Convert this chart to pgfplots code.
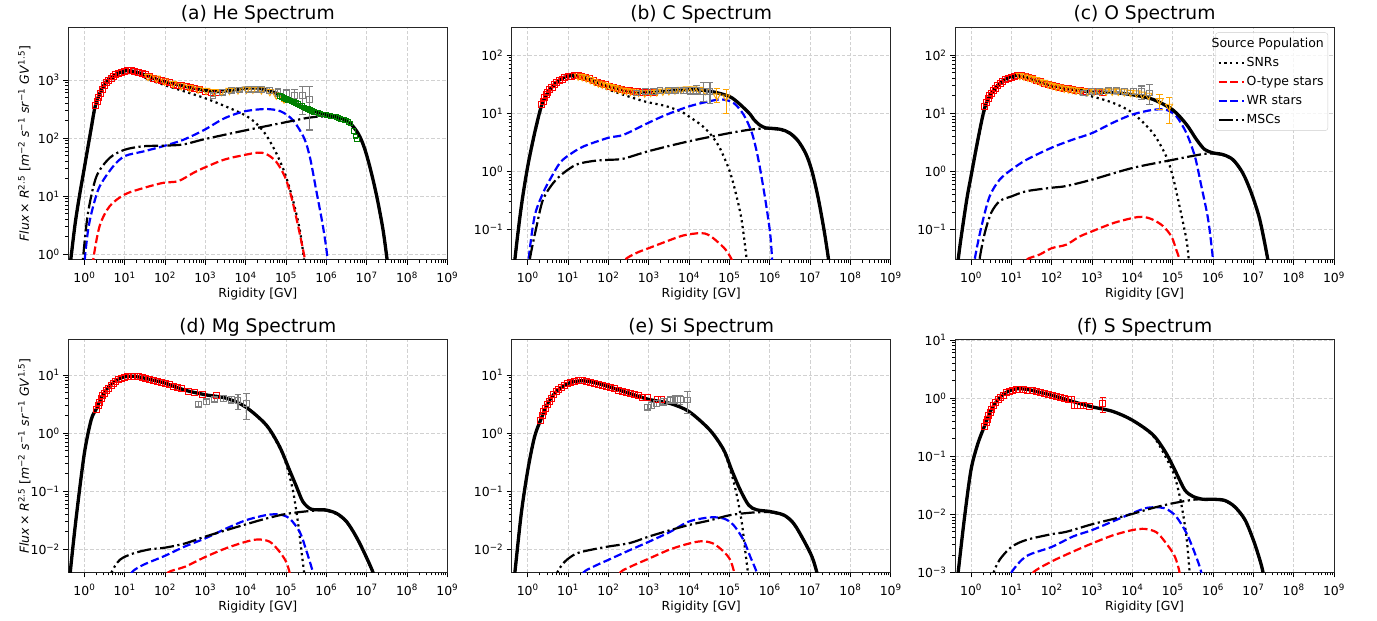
\documentclass[border=0pt]{standalone}
\usepackage{fontspec}
\setmainfont{DejaVu Sans}
\usepackage{pgfplots}
\pgfplotsset{compat=1.18}
\definecolor{mplorange}{RGB}{255,165,0}
\definecolor{mplgreen}{RGB}{0,128,0}
\definecolor{mplgray}{RGB}{128,128,128}
\newcommand{\sE}[1]{10\textsuperscript{#1}}
\pgfplotsset{
  mypanel/.style={
    scale only axis, width=379bp, height=232.5bp,
    xmin=0.4, xmax=1e9,
    xtick={1,10,100,1000,10000,100000,1000000,10000000,100000000,1000000000},
    xticklabels={\sE{0},\sE{1},\sE{2},\sE{3},\sE{4},\sE{5},\sE{6},\sE{7},\sE{8},\sE{9}},
    tick align=outside, xtick pos=bottom, ytick pos=left,
    major tick length=5bp, minor tick length=3bp,
    tick style={black, line width=0.8bp},
    axis line style={black!85, line width=1bp},
    grid=major, major grid style={black!18, line width=0.7bp, dash pattern=on 3.5bp off 2bp},
    tick label style={font=\fontsize{12.5}{15}\selectfont},
    xticklabel style={yshift=-3.5bp},
    label style={font=\fontsize{12.5}{15}\selectfont},
    title style={font=\fontsize{18.75}{22}\selectfont, at={(axis description cs:0.5,1.008)}, anchor=base},
    xlabel={Rigidity [GV]},
    xlabel style={at={(axis description cs:0.5,-0.1613)}, anchor=base},
    ylabel style={at={(axis description cs:-0.1161,0.5)}, anchor=center},
  },
  snr/.style={black, line width=2.2bp, dash pattern=on 2.2bp off 3.6bp, smooth, tension=0.5},
  otype/.style={red, line width=2.2bp, dash pattern=on 8.1bp off 3.5bp, smooth, tension=0.5},
  wr/.style={blue, line width=2.2bp, dash pattern=on 8.1bp off 3.5bp, smooth, tension=0.5},
  msc/.style={black, line width=2.2bp, dash pattern=on 14bp off 3.5bp on 2.2bp off 3.5bp, smooth, tension=0.5},
  total/.style={black, line width=3.3bp, smooth, tension=0.5, forget plot},
  ebars/.style={error bars/y dir=both, error bars/y explicit, error bars/error bar style={line width=1.1bp},
     error bars/error mark options={rotate=90, mark size=3.3bp, line width=1.1bp}},
  amsred/.style={forget plot, only marks, red, mark=square, mark size=3bp, mark options={line width=0.9bp, fill=none}},
  amsrederr/.style={forget plot, only marks, red, mark=square, mark size=3bp, mark options={line width=0.9bp, fill=none}, ebars},
  triorange/.style={forget plot, only marks, mplorange, mark=triangle, mark size=4.2bp, mark options={rotate=180, line width=0.9bp, fill=none}, ebars},
  graysq/.style={forget plot, only marks, mplgray, mark=square, mark size=2.9bp, mark options={line width=0.9bp, fill=none}, ebars},
  greenm/.style={forget plot, only marks, mplgreen, mark=square, mark size=2.3bp, mark options={line width=0.9bp, fill=none}},
}
\begin{document}
\begin{tikzpicture}
\useasboundingbox (0,0) rectangle (1377bp,621bp);
% ---------------- (a) He
\begin{loglogaxis}[mypanel, at={(68.3bp,361bp)}, anchor=south west, ymin=0.8, ymax=8000,
  ytick={1,10,100,1000}, yticklabels={\sE{0},\sE{1},\sE{2},\sE{3}},
  title={(a) He Spectrum},
  ylabel={\textit{Flux}\,×\,\,\textit{R}\textsuperscript{2.5} [\textit{m}\textsuperscript{−2} \textit{s}\textsuperscript{−1} \textit{sr}\textsuperscript{−1} \textit{GV}\textsuperscript{1.5}]}]
\addplot[snr] coordinates {(0.398,0.355) (0.468,0.891) (0.589,3.31) (0.741,9.33) (0.933,22.9) (1.175,57.5) (1.479,141) (1.862,331) (2.630,631) (3.715,912) (5.888,1148) (9.333,1288) (13.18,1318) (23.44,1202) (46.77,977) (100,813) (229.1,676) (955,490) (3311,347) (9333,251) (1.778e4,182) (3.162e4,115) (5.754e4,55.0) (9.333e4,25.1) (1.479e5,8.71) (2.188e5,2.69) (2.818e5,0.794) (3.162e5,0.398)};
\addplot[otype] coordinates {(1.549,0.398) (1.660,0.813) (2.399,3.090) (4.266,6.761) (10,10.72) (28.84,13.80) (89.13,16.98) (213.8,18.20) (501.2,25.12) (933.3,30.90) (2951,42.66) (9333,51.29) (1.995e4,56.23) (3.162e4,53.70) (5.623e4,39.81) (9.333e4,21.88) (1.349e5,10) (1.995e5,3.090) (2.951e5,0.813) (3.311e5,0.398)};
\addplot[wr] coordinates {(0.955,0.316) (1.023,0.813) (1.259,2.818) (1.660,6.761) (2.399,14.79) (5.129,32.36) (10,48.98) (28.84,58.88) (89.13,72.44) (281.8,93.33) (933.3,138.0) (2951,218.8) (9333,288.4) (3.162e4,316.2) (7.413e4,288.4) (1.479e5,204.2) (2.818e5,100) (3.981e5,44.67) (5.623e5,12.59) (7.943e5,3.548) (1e6,1.259) (1.148e6,0.501)};
\addplot[msc] coordinates {(0.871,0.398) (0.933,0.891) (1.230,5.129) (1.995,21.88) (4.266,45.71) (10,63.10) (28.84,72.44) (89.13,74.13) (281.8,77.62) (933.3,95.50) (9333,134.9) (9.333e4,186.2) (2.951e5,218.8) (6.310e5,234.4) (1.259e6,234.4) (2.512e6,208.9) (3.981e6,173.8) (6.310e6,114.8) (8.913e6,64.57) (1.259e7,27.54) (1.778e7,9.772) (2.512e7,2.754) (3.162e7,0.871) (3.548e7,0.437)};
\addplot[total] coordinates {(0.398,0.355) (0.468,0.891) (0.589,3.31) (0.741,9.33) (0.933,23.4) (1.175,58.9) (1.479,148) (1.862,355) (2.630,676) (3.715,977) (5.888,1230) (9.333,1413) (13.18,1445) (23.44,1318) (46.77,1096) (100,933) (316.2,776) (1000,661) (1995,631) (3981,661) (1e4,724) (1.995e4,724) (3.981e4,646) (7.943e4,537) (1.585e5,407) (3.162e5,324) (6.310e5,275) (1.259e6,245) (2.512e6,214) (3.981e6,178) (6.310e6,117) (8.913e6,66.1) (1.259e7,28.2) (1.778e7,10) (2.512e7,2.818) (3.162e7,0.891) (3.548e7,0.447)};
\addplot[amsred] coordinates {(1.905,363) (2.089,427) (2.291,501) (2.512,589) (2.818,692) (3.162,794) (3.548,891) (3.981,977) (4.571,1072) (5.248,1148) (6.026,1230) (7.079,1288) (8.318,1349) (10,1413) (12.02,1445) (14.45,1445) (17.78,1413) (21.88,1349) (26.92,1288) (33.11,1230) (41.69,1148) (52.48,1072) (66.07,1023) (83.18,977) (104.7,933) (131.8,891) (166.0,851) (208.9,813) (263.0,794) (331.1,759) (416.9,741) (524.8,708) (707.9,676) (1000,646) (1413,617) (1995,603)};
\addplot[triorange] coordinates {(38.02,1148) (61.66,1072) (97.72,955) (158.5,871) (251.2,794) (407.4,741) (660.7,692) (1047,661) (1698,631) (2512,631) (3981,661) (6457,676) (1.047e4,692) (1.514e4,692) (2.455e4,676) (3.981e4,631) (5.754e4,550) (8.913e4,468) +- (0,45)};
\addplot[graysq] coordinates {(1549,550) +- (0,38) (2630,603) +- (0,42) (4365,661) +- (0,46) (7079,676) +- (0,55) (1.148e4,692) +- (0,64) (1.660e4,692) +- (0,64) (2.455e4,692) +- (0,72) (3.890e4,661) +- (0,77) (6.310e4,617) +- (0,86) (1.023e5,589) +- (0,95) (1.622e5,550) += (0,142) -= (0,133) (2.570e5,537) += (0,239) -= (0,286) (3.890e5,468) += (0,308) -= (0,330)};
\addplot[greenm] coordinates {(7.079e4,537) (7.943e4,513) (8.913e4,490) (1e5,468) (1.122e5,457) (1.259e5,447) (1.413e5,427) (1.585e5,417) (1.778e5,398) (1.995e5,389) (2.239e5,363) (2.512e5,355) (2.818e5,339) (3.162e5,324) (3.548e5,316) (3.981e5,302) (4.467e5,295) (5.012e5,282) (5.623e5,275) (6.310e5,269) (7.079e5,263) (7.943e5,257) (8.913e5,257) (1e6,251) (1.122e6,245) (1.259e6,240) (1.413e6,234) (1.585e6,234) (1.778e6,229) (1.995e6,224) (2.239e6,214) (2.512e6,209) (2.818e6,204) (3.162e6,200) (3.548e6,191) (3.981e6,178) (4.677e6,132) (5.248e6,107) (5.754e6,95.5)};
\end{loglogaxis}
% ---------------- (b) C
\begin{loglogaxis}[mypanel, at={(511.7bp,361bp)}, anchor=south west, ymin=0.03, ymax=300,
  ytick={0.1,1,10,100}, yticklabels={\sE{−1},\sE{0},\sE{1},\sE{2}},
  title={(b) C Spectrum}]
\addplot[snr] coordinates {(0.398,5.62e-3) (0.479,0.0282) (0.692,0.234) (1,1.148) (1.479,4.266) (2.188,12.59) (3.162,21.38) (5.012,31.62) (7.943,38.90) (13.49,41.69) (25.12,38.02) (50.12,31.62) (131.8,23.99) (741.3,16.22) (2512,13.49) (6310,10.72) (1.072e4,8.511) (1.995e4,6.310) (3.311e4,4.467) (5.623e4,2.630) (1e5,1.047) (1.413e5,0.447) (1.995e5,0.151) (2.692e5,0.0302) (3.020e5,0.0126)};
\addplot[otype] coordinates {(223.9,0.0200) (257.0,0.0302) (501.2,0.0398) (1000,0.0479) (2818,0.0631) (7244,0.0794) (1.905e4,0.0871) (3.020e4,0.0813) (4.898e4,0.0631) (7.943e4,0.0457) (1.148e5,0.0302) (1.318e5,0.0200)};
\addplot[wr] coordinates {(1,0.0126) (1.047,0.0302) (1.479,0.170) (2.399,0.427) (3.548,0.724) (6.310,1.413) (10.96,1.950) (23.99,2.692) (100,3.802) (234.4,4.266) (1000,6.918) (2818,9.550) (1e4,13.18) (3.311e4,16.22) (6.457e4,17.38) (1.259e5,15.14) (2.239e5,9.550) (3.631e5,4.571) (5.248e5,1.585) (7.762e5,0.331) (1.023e6,0.0871) (1.148e6,0.0302) (1.230e6,0.0126)};
\addplot[msc] coordinates {(1.047,0.0126) (1.122,0.0302) (1.660,0.115) (2.399,0.331) (4.266,0.631) (7.586,0.933) (16.22,1.318) (41.69,1.514) (100,1.585) (234.4,1.660) (1000,2.239) (1e4,3.311) (1e5,4.571) (3.311e5,5.248) (7.762e5,5.495) (1.259e6,5.370) (1.995e6,5.129) (3.162e6,4.467) (5.012e6,3.311) (7.943e6,1.950) (1.122e7,0.977) (1.585e7,0.347) (2.239e7,0.0933) (2.884e7,0.0295) (3.311e7,0.0138)};
\addplot[total] coordinates {(0.398,6.31e-3) (0.479,0.0302) (0.692,0.251) (1,1.230) (1.479,4.571) (2.188,13.49) (3.162,22.91) (5.012,33.88) (7.943,41.69) (13.49,44.67) (25.12,41.69) (50.12,34.67) (100,29.51) (346.7,23.99) (1000,22.91) (3162,23.99) (1e4,25.70) (3.311e4,23.99) (1e5,19.50) (1.862e5,14.13) (3.311e5,9.550) (3.981e5,7.943) (5.623e5,6.310) (7.943e5,5.623) (1.259e6,5.495) (1.995e6,5.248) (3.162e6,4.571) (5.012e6,3.388) (7.943e6,1.995) (1.122e7,1) (1.585e7,0.355) (2.239e7,0.0955) (2.884e7,0.0302) (3.311e7,0.0141)};
\addplot[amsred] coordinates {(2.188,14.13) (2.399,16.22) (2.630,18.62) (2.884,20.89) (3.162,22.91) (3.548,25.70) (3.981,28.18) (4.571,30.90) (5.248,33.88) (6.026,36.31) (7.079,38.90) (8.318,40.74) (10,42.66) (12.02,43.65) (14.45,44.67) (17.78,44.67) (21.88,43.65) (26.92,41.69) (33.11,39.81) (41.69,37.15) (52.48,34.67) (66.07,33.11) (83.18,30.90) (104.7,29.51) (131.8,28.18) (166.0,26.92) (208.9,25.70) (263.0,25.12) (331.1,24.55) (416.9,23.99) (524.8,23.44) (707.9,22.91) (1000,22.91) (1413,22.91)};
\addplot[triorange] coordinates {(17.78,43.65) (22.39,42.66) (28.18,40.74) (35.48,38.02) (44.67,35.48) (56.23,33.11) (70.79,31.62) (89.13,30.20) (112.2,28.84) (141.3,27.54) (177.8,26.30) (223.9,25.12) (281.8,24.55) (354.8,23.99) (446.7,23.44) (562.3,22.91) (794.3,22.39) (1122,22.91) (1585,23.44) (2239,23.99) (3162,24.55) (4467,25.12) (6310,25.70) (8913,26.30) (1.259e4,26.30) (1.778e4,25.70) (2.512e4,24.55) (4.898e4,19.95) += (0,6.35) -= (0,4.81) (8.318e4,19.05) += (0,6.65) -= (0,9.05)};
\addplot[graysq] coordinates {(501.2,22.39) +- (0,1.05) (812.8,23.44) +- (0,1.1) (1288,23.99) +- (0,1.4) (1905,24.55) +- (0,1.45) (3090,25.12) +- (0,1.8) (4571,25.12) +- (0,1.8) (7244,24.55) +- (0,2.4) (1.072e4,24.55) +- (0,3.0) (1.549e4,25.12) += (0,5.07) -= (0,4.23) (2.291e4,23.99) += (0,9.89) -= (0,8.14) (3.311e4,23.44) += (0,10.44) -= (0,8.65)};
\end{loglogaxis}
% ---------------- (c) O
\begin{loglogaxis}[mypanel, at={(955bp,361bp)}, anchor=south west, ymin=0.03, ymax=300,
  ytick={0.1,1,10,100}, yticklabels={\sE{−1},\sE{0},\sE{1},\sE{2}},
  title={(c) O Spectrum},
  legend image code/.code={\draw[#1] (0bp,0bp) -- (25bp,0bp);},
  legend style={at={(axis description cs:1,1)}, anchor=north east, xshift=-6bp, yshift=-5bp,
    draw=black!20, rounded corners=2.5bp, fill=white, fill opacity=0.8, text opacity=1,
    font=\fontsize{12.5}{15}\selectfont, inner xsep=2bp, inner ysep=3.5bp, row sep=4.3bp,
    cells={anchor=west}}]
\addlegendimage{empty legend}
\addlegendentry{\hspace*{-35bp}Source Population}
\addplot[snr] coordinates {(0.398,4.677e-3) (0.479,0.0282) (0.759,0.269) (1,0.776) (1.479,3.311) (2.188,11.75) (3.162,20.42) (5.012,30.20) (7.943,38.02) (13.18,41.69) (25.12,38.02) (50.12,32.36) (100,27.54) (316.2,22.91) (1000,19.50) (3311,15.14) (1e4,10.23) (3.236e4,4.571) (6.918e4,1.820) (1e5,0.832) (1.479e5,0.251) (2.188e5,0.0676) (2.512e5,0.0302) (2.818e5,0.0126)};
\addlegendentry{SNRs}
\addplot[otype] coordinates {(19.95,0.0200) (23.44,0.0302) (50.12,0.0372) (100,0.0479) (229.1,0.0550) (489.8,0.0759) (1000,0.0933) (3311,0.129) (1e4,0.158) (1.820e4,0.166) (3.236e4,0.148) (5.754e4,0.115) (9.333e4,0.0759) (1.230e5,0.0447) (1.479e5,0.0302) (1.660e5,0.0158)};
\addlegendentry{O-type stars}
\addplot[wr] coordinates {(1.148,0.0126) (1.230,0.0302) (1.820,0.115) (2.884,0.372) (5.129,0.724) (10,1.072) (23.44,1.585) (100,2.570) (338.8,3.548) (1000,4.571) (3311,6.918) (1e4,9.550) (3.236e4,11.48) (6.918e4,11.48) (1.230e5,8.913) (2.188e5,4.571) (3.548e5,1.820) (5.129e5,0.562) (7.586e5,0.148) (1e6,0.0302) (1.096e6,0.0126)};
\addlegendentry{WR stars}
\addplot[msc] coordinates {(1.514,0.0126) (1.622,0.0302) (2.188,0.0871) (3.162,0.195) (5.129,0.309) (10,0.372) (23.44,0.457) (100,0.525) (229.1,0.562) (1000,0.724) (1e4,1.148) (1e5,1.585) (4.677e5,1.950) (9.120e5,2.042) (1.778e6,1.905) (3.162e6,1.549) (5.495e6,0.912) (8.913e6,0.417) (1.445e7,0.145) (2.291e7,0.0295) (2.630e7,0.0138)};
\addlegendentry{MSCs}
\addplot[total] coordinates {(0.398,5.012e-3) (0.479,0.0302) (0.759,0.288) (1,0.832) (1.479,3.548) (2.188,12.59) (3.162,21.88) (5.012,32.36) (7.943,40.74) (13.18,44.67) (25.12,40.74) (50.12,35.48) (100,30.20) (338.8,25.70) (1000,23.44) (3162,22.91) (1e4,20.89) (3.236e4,17.38) (1e5,11.48) (2.188e5,6.457) (3.890e5,3.548) (6.166e5,2.399) (1e6,2.089) (1.778e6,1.950) (3.162e6,1.585) (5.495e6,0.933) (8.913e6,0.427) (1.445e7,0.148) (2.291e7,0.0302) (2.630e7,0.0141)};
\addplot[amsred] coordinates {(2.188,13.18) (2.399,15.49) (2.630,17.78) (2.884,19.95) (3.162,21.88) (3.548,24.55) (3.981,26.92) (4.571,30.20) (5.248,33.11) (6.026,35.48) (7.079,38.02) (8.318,39.81) (10,41.69) (12.02,43.65) (14.45,44.67) (17.78,44.67) (21.88,43.65) (26.92,41.69) (33.11,39.81) (41.69,37.15) (52.48,35.48) (66.07,33.11) (83.18,31.62) (104.7,30.20) (131.8,28.84) (166.0,28.18) (208.9,26.92) (263.0,26.30) (331.1,25.70) (416.9,25.12) (524.8,24.55) (707.9,23.99) (1000,23.44) (1413,23.44) (1862,22.91)};
\addplot[triorange] coordinates {(16.22,44.67) (20.42,43.65) (25.70,41.69) (32.36,39.81) (40.74,38.02) (51.29,35.48) (64.57,33.88) (81.28,31.62) (102.3,30.20) (128.8,28.84) (162.2,28.18) (204.2,26.92) (257.0,26.30) (323.6,25.70) (407.4,25.12) (512.9,24.55) (794.3,23.99) (1122,23.99) (1585,23.99) (2239,23.99) (3162,23.99) (4467,23.99) (6310,23.44) (8913,22.91) (1.259e4,22.39) (1.778e4,21.38) (2.512e4,20.42) (4.786e4,16.60) += (0,4.29) -= (0,5.12) (8.128e4,13.18) += (0,5.44) -= (0,6.57)};
\addplot[graysq] coordinates {(602.6,22.39) +- (0,1.05) (955,23.99) +- (0,1.1) (1549,23.99) +- (0,1.2) (2512,25.12) +- (0,1.3) (3981,25.12) +- (0,1.8) (6457,23.99) +- (0,2.3) (1.047e4,23.99) +- (0,2.9) (1.660e4,23.44) += (0,6.07) -= (0,6.06) (2.692e4,22.39) += (0,9.23) -= (0,8.26)};
\end{loglogaxis}
% ---------------- (d) Mg
\begin{loglogaxis}[mypanel, at={(68.3bp,48.5bp)}, anchor=south west, ymin=0.004, ymax=40,
  ytick={0.01,0.1,1,10}, yticklabels={\sE{−2},\sE{−1},\sE{0},\sE{1}},
  title={(d) Mg Spectrum},
  ylabel={\textit{Flux}\,×\,\,\textit{R}\textsuperscript{2.5} [\textit{m}\textsuperscript{−2} \textit{s}\textsuperscript{−1} \textit{sr}\textsuperscript{−1} \textit{GV}\textsuperscript{1.5}]}]
\addplot[snr] coordinates {(0.398,1.259e-3) (0.447,3.981e-3) (0.631,0.0363) (1,0.447) (1.479,1.698) (1.995,2.630) (2.512,3.802) (3.548,5.623) (5.623,7.762) (8.913,9.120) (14.79,9.550) (25.12,9.120) (50.12,8.128) (100,7.244) (309.0,5.495) (1000,4.571) (3311,3.981) (1e4,2.818) (3.236e4,1.349) (6.918e4,0.562) (1e5,0.302) (1.479e5,0.105) (1.995e5,0.0282) (2.399e5,9.772e-3) (2.818e5,3.981e-3) (3.162e5,1.995e-3)};
\addplot[otype] coordinates {(100,2.512e-3) (117.5,3.981e-3) (309.0,5.012e-3) (1000,7.413e-3) (3311,0.0105) (1e4,0.0135) (2.042e4,0.0148) (3.981e4,0.0135) (6.918e4,9.120e-3) (1e5,6.166e-3) (1.230e5,3.981e-3) (1.349e5,2.512e-3)};
\addplot[wr] coordinates {(12.59,2.512e-3) (14.79,3.981e-3) (28.18,5.370e-3) (100,7.762e-3) (309.0,0.0112) (1000,0.0155) (3311,0.0229) (1e4,0.0316) (3.236e4,0.0389) (6.918e4,0.0398) (1.230e5,0.0339) (2.188e5,0.0200) (3.162e5,9.772e-3) (4.677e5,3.981e-3) (5.248e5,2.512e-3)};
\addplot[msc] coordinates {(4.169,2.512e-3) (4.677,3.981e-3) (7.586,6.607e-3) (16.22,8.511e-3) (41.69,0.0100) (100,0.0107) (309.0,0.0126) (1000,0.0166) (3311,0.0214) (1e4,0.0269) (3.236e4,0.0339) (1e5,0.0407) (3.890e5,0.0457) (9.120e5,0.0468) (1.778e6,0.0407) (3.162e6,0.0295) (5.495e6,0.0162) (8.913e6,8.318e-3) (1.445e7,3.890e-3) (1.660e7,2.455e-3)};
\addplot[total] coordinates {(0.398,1.259e-3) (0.447,3.981e-3) (0.631,0.0363) (1,0.447) (1.479,1.698) (1.995,2.630) (2.512,3.802) (3.548,5.623) (5.623,7.762) (8.913,9.120) (14.79,9.550) (25.12,9.120) (50.12,8.128) (100,7.244) (309.0,5.495) (1000,4.571) (3311,3.981) (1e4,2.818) (3.236e4,1.380) (6.918e4,0.589) (1.230e5,0.229) (1.820e5,0.120) (2.630e5,0.0661) (4.266e5,0.0490) (9.120e5,0.0479) (1.778e6,0.0417) (3.162e6,0.0302) (5.495e6,0.0166) (8.913e6,8.511e-3) (1.445e7,3.981e-3) (1.660e7,2.512e-3)};
\addplot[amsred] coordinates {(1.995,2.512) (2.188,2.951) (2.399,3.388) (2.630,3.890) (2.884,4.365) (3.162,4.786) (3.548,5.370) (3.981,5.888) (4.571,6.607) (5.248,7.244) (6.026,7.762) (7.079,8.318) (8.318,8.710) (10,9.120) (12.02,9.333) (14.45,9.550) (17.78,9.550) (21.88,9.333) (26.92,9.120) (33.11,8.710) (41.69,8.318) (52.48,8.128) (66.07,7.762) (83.18,7.413) (104.7,7.079) (131.8,6.761) (166.0,6.457) (208.9,6.026) (263.0,5.754) (371.5,5.248) (537.0,5.012) (871.0,4.571) (1862,4.365)};
\addplot[graysq] coordinates {(660.7,3.162) +- (0,0.3) (1047,3.467) +- (0,0.33) (1698,3.802) +- (0,0.36) (2754,3.981) +- (0,0.45) (4365,3.802) +- (0,0.5) (6457,3.631) += (0,0.94) -= (0,1.12) (1.047e4,3.236) += (0,1.55) -= (0,1.54)};
\end{loglogaxis}
% ---------------- (e) Si
\begin{loglogaxis}[mypanel, at={(511.7bp,48.5bp)}, anchor=south west, ymin=0.004, ymax=40,
  ytick={0.01,0.1,1,10}, yticklabels={\sE{−2},\sE{−1},\sE{0},\sE{1}},
  title={(e) Si Spectrum}]
\addplot[snr] coordinates {(0.417,1.778e-3) (0.479,3.981e-3) (0.692,0.0417) (1,0.229) (1.479,0.871) (2.188,1.820) (3.162,3.311) (5.012,5.129) (7.943,6.607) (12.59,7.586) (23.99,7.943) (50.12,7.244) (100,6.310) (346.7,4.786) (1000,3.802) (3388,3.236) (1e4,2.344) (3.311e4,1.096) (7.244e4,0.490) (1.148e5,0.191) (1.549e5,0.0813) (2.042e5,0.0282) (2.455e5,9.772e-3) (2.884e5,3.981e-3) (3.162e5,2.512e-3)};
\addplot[otype] coordinates {(166.0,2.512e-3) (195.0,3.981e-3) (346.7,5.012e-3) (1000,6.918e-3) (3388,0.0100) (1e4,0.0126) (2.089e4,0.0138) (3.981e4,0.0126) (7.244e4,9.120e-3) (1.047e5,6.607e-3) (1.318e5,3.981e-3) (1.445e5,2.512e-3)};
\addplot[wr] coordinates {(20.89,2.512e-3) (23.99,3.981e-3) (41.69,5.012e-3) (100,6.607e-3) (346.7,9.772e-3) (1000,0.0135) (3388,0.0200) (1e4,0.0302) (3.311e4,0.0355) (7.244e4,0.0339) (1.259e5,0.0263) (2.239e5,0.0145) (3.311e5,7.413e-3) (4.786e5,3.981e-3) (5.248e5,2.512e-3)};
\addplot[msc] coordinates {(4.786,2.512e-3) (5.370,3.981e-3) (8.318,6.166e-3) (16.22,8.511e-3) (41.69,0.0100) (100,0.0112) (346.7,0.0129) (1000,0.0166) (3388,0.0214) (1e4,0.0263) (3.311e4,0.0316) (1.047e5,0.0389) (3.311e5,0.0427) (6.310e5,0.0437) (1.023e6,0.0437) (2.239e6,0.0380) (3.890e6,0.0275) (6.918e6,0.0141) (1.122e7,7.244e-3) (1.479e7,3.890e-3) (1.660e7,2.455e-3)};
\addplot[total] coordinates {(0.417,1.778e-3) (0.479,3.981e-3) (0.692,0.0417) (1,0.229) (1.479,0.871) (2.188,1.820) (3.162,3.311) (5.012,5.129) (7.943,6.607) (12.59,7.586) (23.99,7.943) (50.12,7.244) (100,6.310) (346.7,4.786) (1000,3.802) (3388,3.236) (1e4,2.344) (3.311e4,1.122) (7.244e4,0.513) (1.148e5,0.229) (1.862e5,0.105) (3.020e5,0.0575) (4.786e5,0.0479) (1.023e6,0.0447) (2.239e6,0.0389) (3.890e6,0.0282) (6.918e6,0.0145) (1.122e7,7.413e-3) (1.479e7,3.981e-3) (1.660e7,2.512e-3)};
\addplot[amsred] coordinates {(2.089,1.660) (2.291,1.995) (2.512,2.344) (2.754,2.692) (3.020,3.090) (3.388,3.548) (3.802,3.981) (4.365,4.571) (5.012,5.129) (5.754,5.623) (6.761,6.166) (7.943,6.607) (9.550,7.079) (11.48,7.413) (14.13,7.762) (17.78,7.943) (22.39,7.943) (28.18,7.762) (35.48,7.586) (44.67,7.244) (56.23,6.918) (70.79,6.607) (89.13,6.310) (112.2,6.026) (141.3,5.754) (177.8,5.495) (223.9,5.248) (281.8,5.012) (354.8,4.786) (446.7,4.571) (562.3,4.365) (707.9,4.169) (933.3,4.074) (1660,3.802) (2089,3.802)};
\addplot[graysq] coordinates {(933.3,2.818) +- (0,0.34) (1175,3.020) +- (0,0.36) (1585,3.236) +- (0,0.39) (2291,3.467) +- (0,0.42) (3388,3.715) +- (0,0.5) (4467,3.802) +- (0,0.6) (6026,3.802) +- (0,0.7) (9120,3.715) += (0,1.41) -= (0,1.53)};
\end{loglogaxis}
% ---------------- (f) S
\begin{loglogaxis}[mypanel, at={(955bp,48.5bp)}, anchor=south west, ymin=0.001, ymax=10,
  ytick={0.001,0.01,0.1,1,10}, yticklabels={\sE{−3},\sE{−2},\sE{−1},\sE{0},\sE{1}},
  title={(f) S Spectrum}]
\addplot[snr] coordinates {(0.417,3.981e-4) (0.479,1e-3) (0.692,9.120e-3) (1,0.0589) (1.479,0.166) (2.188,0.339) (3.162,0.631) (5.012,1) (7.943,1.288) (13.18,1.445) (25.12,1.413) (50.12,1.259) (100,1.122) (338.8,0.871) (1000,0.708) (3311,0.589) (1e4,0.417) (3.236e4,0.224) (6.918e4,0.0933) (1.122e5,0.0447) (1.622e5,0.0155) (2.188e5,4.169e-3) (2.630e5,1e-3) (2.884e5,5.012e-4)};
\addplot[otype] coordinates {(30.20,6.310e-4) (34.67,1e-3) (100,1.549e-3) (338.8,2.291e-3) (1000,3.162e-3) (3311,4.365e-3) (1e4,5.370e-3) (2.042e4,5.623e-3) (3.981e4,4.898e-3) (6.918e4,3.162e-3) (1.122e5,1.905e-3) (1.479e5,1e-3) (1.585e5,5.012e-4)};
\addplot[wr] coordinates {(8.913,6.310e-4) (10,1e-3) (23.44,1.905e-3) (100,2.754e-3) (338.8,4.169e-3) (1000,5.370e-3) (3311,7.586e-3) (1e4,0.0105) (2.239e4,0.0129) (4.786e4,0.0132) (7.586e4,0.0120) (1.230e5,9.120e-3) (2.188e5,4.786e-3) (3.548e5,2.138e-3) (5.129e5,1e-3) (5.623e5,5.012e-4)};
\addplot[msc] coordinates {(3.162,6.310e-4) (3.631,1e-3) (5.129,1.660e-3) (10,2.754e-3) (23.44,3.631e-3) (100,4.571e-3) (229.1,5.012e-3) (1000,6.761e-3) (3311,8.318e-3) (1e4,0.0102) (3.236e4,0.0129) (1e5,0.0155) (3.162e5,0.0178) (5.623e5,0.0182) (1e6,0.0180) (1.950e6,0.0170) (3.467e6,0.0132) (6.166e6,7.943e-3) (1e7,3.548e-3) (1.445e7,1.622e-3) (1.738e7,9.772e-4) (1.995e7,5.012e-4)};
\addplot[total] coordinates {(0.417,3.981e-4) (0.479,1e-3) (0.692,9.120e-3) (1,0.0589) (1.479,0.166) (2.188,0.339) (3.162,0.631) (5.012,1) (7.943,1.288) (13.18,1.445) (25.12,1.413) (50.12,1.259) (100,1.122) (338.8,0.871) (1000,0.708) (3311,0.589) (1e4,0.417) (3.236e4,0.234) (6.918e4,0.112) (1.230e5,0.0513) (1.995e5,0.0263) (3.162e5,0.0204) (5.623e5,0.0182) (1e6,0.0182) (1.950e6,0.0174) (3.467e6,0.0135) (6.166e6,8.128e-3) (1e7,3.631e-3) (1.445e7,1.660e-3) (1.738e7,1e-3) (1.995e7,5.012e-4)};
\addplot[amsred] coordinates {(2.188,0.324) (2.344,0.380) (2.512,0.437) (2.692,0.501) (2.951,0.575) (3.236,0.646) (3.631,0.741) (4.074,0.832) (4.677,0.933) (5.370,1.023) (6.310,1.122) (7.413,1.230) (8.913,1.318) (10.72,1.380) (13.18,1.413) (16.22,1.413) (20.42,1.413) (25.70,1.380) (32.36,1.349) (40.74,1.288) (51.29,1.259) (64.57,1.202) (81.28,1.148) (102.3,1.096) (128.8,1.072) (162.2,1.023) (204.2,0.977) (257.0,0.955) (309.0,0.933) (371.5,0.759) (436.5,0.759) (512.9,0.759) (602.6,0.759) (871.0,0.708)};
\addplot[amsrederr] coordinates {(1862,0.813) += (0,0.21) -= (0,0.238)};
\end{loglogaxis}
\end{tikzpicture}
\end{document}
